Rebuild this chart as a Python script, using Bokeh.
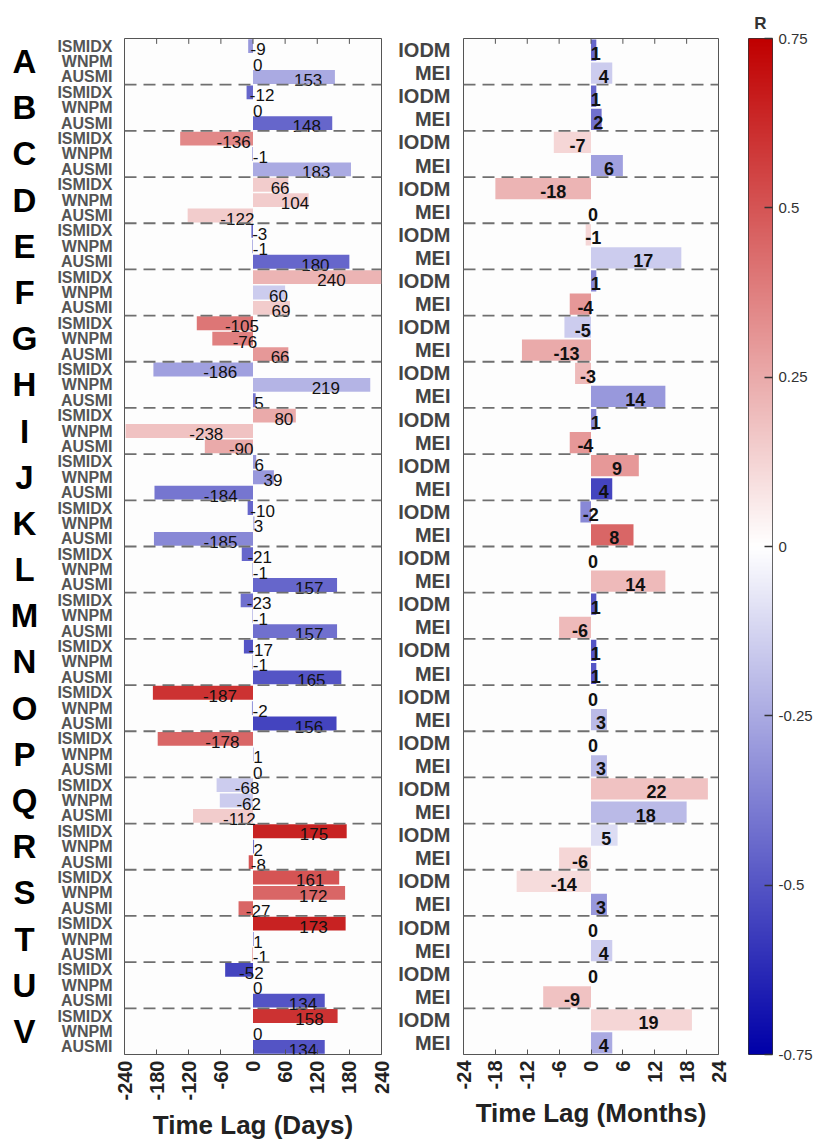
import numpy as np
from bokeh.plotting import figure
from bokeh.layouts import row
from bokeh.models import (ColumnDataSource, Range1d, LinearAxis, FixedTicker, Span,
                          LinearColorMapper)
from bokeh.transform import linear_cmap
from bokeh.embed import file_html
from bokeh.resources import INLINE
from bokeh.core.properties import value

# ---------------- data ----------------
groups = list("ABCDEFGHIJKLMNOPQRSTUV")
day_indices = ["ISMIDX", "WNPM", "AUSMI"]
month_indices = ["IODM", "MEI"]

ismidx_lag = [-9, -12, -136, 66, -3, 240, -105, -186, 80, 6, -10, -21, -23, -17, -187, -178, -68, 175, 161, 173, -52, 158]
wnpm_lag = [0, 0, -1, 104, -1, 60, -76, 219, -238, 39, 3, -1, -1, -1, -2, 1, -62, 2, 172, 1, 0, 0]
ausmi_lag = [153, 148, 183, -122, 180, 69, 66, 5, -90, -184, -185, 157, 157, 165, 156, 0, -112, -8, -27, -1, 134, 134]

ismidx_r = [-0.30, -0.45, 0.35, 0.15, -0.45, 0.22, 0.40, -0.28, 0.25, -0.30, -0.45, -0.45, -0.42, -0.50, 0.60, 0.45, -0.15, 0.65, 0.50, 0.65, -0.55, 0.60]
wnpm_r = [0.0, 0.0, -0.40, 0.15, -0.40, -0.15, 0.37, -0.22, 0.18, -0.30, -0.20, -0.30, -0.30, -0.30, -0.30, -0.30, -0.15, -0.40, 0.45, -0.50, 0.0, 0.0]
ausmi_r = [-0.25, -0.45, -0.25, 0.15, -0.45, 0.15, 0.30, -0.40, 0.25, -0.40, -0.35, -0.45, -0.42, -0.50, -0.55, 0.0, 0.15, 0.50, 0.45, 0.40, -0.50, -0.50]

iodm_lag = [1, 1, -7, -18, -1, 1, -5, -3, 1, 9, -2, 0, 1, 1, 0, 0, 22, 5, -14, 0, 0, 19]
mei_lag = [4, 2, 6, 0, 17, -4, -13, 14, -4, 4, 8, 14, -6, 1, 3, 3, 18, -6, 3, 4, -9, 4]
iodm_r = [-0.45, -0.45, 0.12, 0.22, 0.12, -0.35, -0.15, 0.20, -0.35, 0.30, -0.35, 0.0, -0.50, -0.50, 0.0, 0.0, 0.18, -0.10, 0.10, 0.0, 0.0, 0.12]
mei_r = [-0.15, -0.42, -0.28, 0.0, -0.15, 0.30, 0.25, -0.30, 0.30, -0.55, 0.45, 0.20, 0.20, -0.50, -0.20, -0.20, -0.20, 0.12, -0.30, -0.15, 0.18, -0.25]

day_ticks = [-240, -180, -120, -60, 0, 60, 120, 180, 240]
month_ticks = [-24, -18, -12, -6, 0, 6, 12, 18, 24]
r_ticks = [-0.75, -0.5, -0.25, 0, 0.25, 0.5, 0.75]
r_tick_labels = ["-0.75", "-0.5", "-0.25", "0", "0.25", "0.5", "0.75"]
R_LOW, R_HIGH = -0.75, 0.75

# ---------------- colormap (white centred, blue -> red) ----------------
def make_palette(n=256, lo=(0, 0, 168), hi=(192, 0, 0)):
    cols = []
    for i in range(n):
        t = i / (n - 1) * 2 - 1
        c0, f = (lo, -t) if t < 0 else (hi, t)
        rgb = [int(round(255 + (c - 255) * f)) for c in c0]
        cols.append("#%02x%02x%02x" % tuple(rgb))
    return cols

palette = make_palette()
mapper = LinearColorMapper(palette=palette, low=R_LOW, high=R_HIGH)

FONT = "Liberation Sans"
H = 1144
TOP, BOT = 38, 90
FRAME_BG = "#fdfdfd"
OUTLINE = "#555555"

def base_fig(width, x_range, y_range, left, right, **kw):
    p = figure(width=width, height=H, x_range=x_range, y_range=y_range,
               min_border_left=left, min_border_right=right,
               min_border_top=TOP, min_border_bottom=BOT,
               x_axis_location=None, y_axis_location=None,
               output_backend="svg", toolbar_location=None, **kw)
    p.grid.visible = False
    p.border_fill_color = "white"
    return p

def add_x_axes(p, ticks, label, top_y, tick_len):
    xb = LinearAxis(ticker=FixedTicker(ticks=ticks), axis_label=label,
                    major_label_overrides={t: str(t) for t in ticks})
    xb.major_label_orientation = np.pi / 2
    xb.major_label_text_font = FONT
    xb.major_label_text_font_style = "bold"
    xb.major_label_text_font_size = "20px"
    xb.major_label_text_color = "#222222"
    xb.major_label_standoff = 6
    xb.axis_label_text_font = FONT
    xb.axis_label_text_font_style = "bold"
    xb.axis_label_text_font_size = "26px"
    xb.axis_label_text_color = "#222222"
    xb.axis_label_standoff = 6
    xb.axis_line_color = None
    xb.major_tick_in = 5
    xb.major_tick_out = 0
    xb.major_tick_line_color = OUTLINE
    xb.minor_tick_line_color = None
    p.add_layout(xb, "below")
    # small inward tick marks along the top edge of the frame
    p.segment(x0=ticks, x1=ticks, y0=[top_y] * len(ticks), y1=[top_y + tick_len] * len(ticks),
              line_color=OUTLINE, line_width=1)

def add_y_labels(p, ticks, labels, size, color, standoff):
    ya = LinearAxis(ticker=FixedTicker(ticks=ticks),
                    major_label_overrides={t: l for t, l in zip(ticks, labels)})
    ya.major_label_text_font = FONT
    ya.major_label_text_font_style = "bold"
    ya.major_label_text_font_size = size
    ya.major_label_text_color = color
    ya.major_label_standoff = standoff
    ya.axis_line_color = None
    ya.major_tick_line_color = None
    ya.minor_tick_line_color = None
    p.add_layout(ya, "left")

def separators(p, n_groups, per):
    for b in range(1, n_groups):
        p.add_layout(Span(location=b * per - 0.5, dimension="width",
                          line_color="#6f6f6f", line_dash="12 7", line_width=1.8))

# ---------------- letters column ----------------
n = len(groups)
p0 = base_fig(50, Range1d(0, 50), Range1d(3 * n - 0.5, -0.5), 0, 0, outline_line_color=None)
src0 = ColumnDataSource(dict(y=[3 * g + 1 for g in range(n)], t=groups))
p0.text(x=24, y="y", text="t", source=src0, text_align="center", text_baseline="middle",
        text_font=value(FONT), text_font_style="bold", text_font_size="33px",
        text_color="black")

# ---------------- left panel (days) ----------------
ys, vals, rs, names = [], [], [], []
for g in range(n):
    for s, (lag, rr) in enumerate([(ismidx_lag, ismidx_r), (wnpm_lag, wnpm_r), (ausmi_lag, ausmi_r)]):
        ys.append(3 * g + s)
        vals.append(lag[g])
        rs.append(rr[g])
        names.append(day_indices[s])
src1 = ColumnDataSource(dict(y=ys, v=vals, r=rs, mid=[v / 2 for v in vals],
                             lab=[str(v) for v in vals]))

p1 = base_fig(345, Range1d(-240, 240), Range1d(3 * n - 0.5, -0.5), 74, 14,
              outline_line_color=OUTLINE, background_fill_color=FRAME_BG)
p1.hbar(y="y", left=0, right="v", height=0.9, source=src1,
        fill_color=linear_cmap("r", palette, R_LOW, R_HIGH), line_color=None)
separators(p1, n, 3)
p1.text(x="mid", y="y", text="lab", source=src1, text_align="left", text_baseline="middle",
        y_offset=3, text_font=value(FONT), text_font_size="17px", text_color="#111111")
add_x_axes(p1, day_ticks, "Time Lag (Days)", -0.5, 0.35)
add_y_labels(p1, ys, names, "16px", "#555555", 6)

# ---------------- right panel (months) ----------------
ys2, vals2, rs2, names2 = [], [], [], []
for g in range(n):
    for s, (lag, rr) in enumerate([(iodm_lag, iodm_r), (mei_lag, mei_r)]):
        ys2.append(2 * g + s)
        vals2.append(lag[g])
        rs2.append(rr[g])
        names2.append(month_indices[s])
src2 = ColumnDataSource(dict(y=ys2, v=vals2, r=rs2, mid=[v / 2 for v in vals2],
                             lab=[str(v) for v in vals2]))

p2 = base_fig(335, Range1d(-24, 24), Range1d(2 * n - 0.5, -0.5), 66, 12,
              outline_line_color=OUTLINE, background_fill_color=FRAME_BG)
p2.hbar(y="y", left=0, right="v", height=0.92, source=src2,
        fill_color=linear_cmap("r", palette, R_LOW, R_HIGH), line_color=None)
separators(p2, n, 2)
p2.text(x="mid", y="y", text="lab", source=src2, text_align="left", text_baseline="middle",
        x_offset=-3, y_offset=3, text_font=value(FONT), text_font_style="bold",
        text_font_size="18px", text_color="#111111")
add_x_axes(p2, month_ticks, "Time Lag (Months)", -0.5, 0.23)
add_y_labels(p2, ys2, names2, "20px", "#444444", 7)

# ---------------- colour bar ----------------
p3 = base_fig(94, Range1d(0, 1), Range1d(R_LOW, R_HIGH), 18, 52,
              outline_line_color="#333333", title="R")
grad = np.linspace(R_LOW, R_HIGH, 256).reshape(256, 1)
p3.image(image=[grad], x=0, y=R_LOW, dw=1, dh=R_HIGH - R_LOW, color_mapper=mapper)
ra = LinearAxis(ticker=FixedTicker(ticks=r_ticks),
                major_label_overrides={t: l for t, l in zip(r_ticks, r_tick_labels)})
ra.major_label_text_font = FONT
ra.major_label_text_font_size = "15px"
ra.major_label_text_color = "#333333"
ra.major_label_standoff = 6
ra.axis_line_color = None
ra.major_tick_in = 8
ra.major_tick_out = 0
ra.major_tick_line_color = "#333333"
ra.major_tick_line_width = 1.5
ra.minor_tick_line_color = None
p3.add_layout(ra, "right")
p3.title.align = "center"
p3.title.text_font = FONT
p3.title.text_font_size = "17px"
p3.title.text_font_style = "bold"
p3.title.text_color = "#333333"
p3.title.standoff = 12

layout = row(p0, p1, p2, p3, spacing=0)
open("out.html", "w").write(file_html(layout, INLINE))
